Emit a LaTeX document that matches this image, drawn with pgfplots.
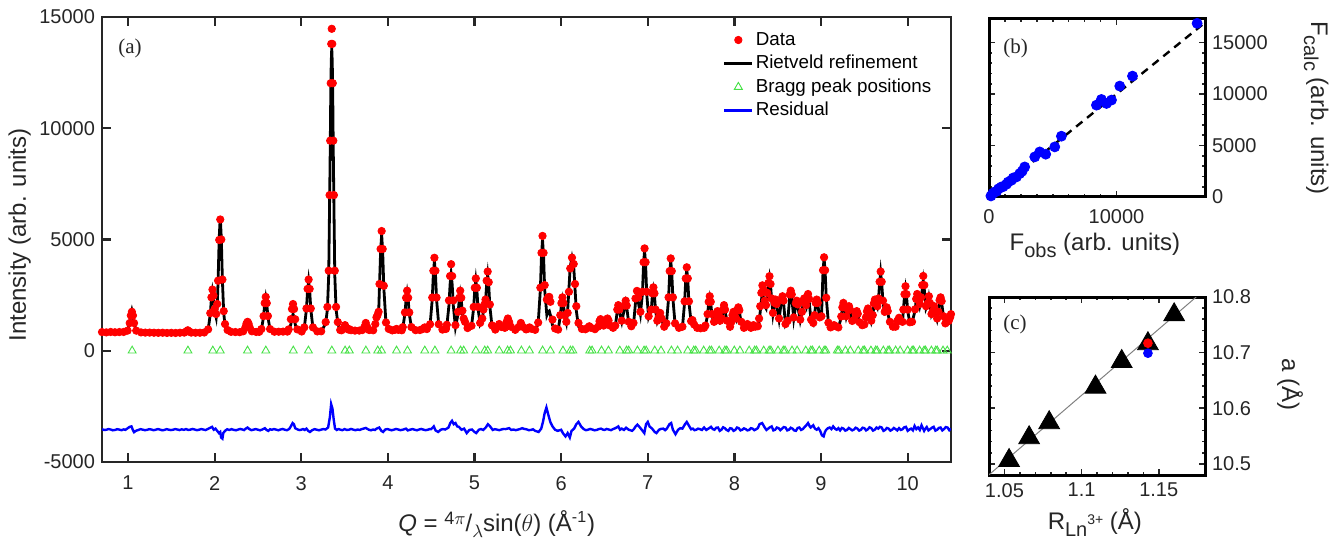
\documentclass[border=0pt]{standalone}
\usepackage{fontspec}
\setmainfont{Liberation Sans}
\newfontfamily\seriffont{Liberation Serif}
\usepackage{pgfplots}
\pgfplotsset{compat=1.18}
\usepackage{pgfplotstable}
\definecolor{bragg}{RGB}{70,225,70}
\definecolor{axgray}{RGB}{38,38,38}
\newcommand{\bigsub}[1]{\raisebox{-3.5pt}{\fontsize{10}{12}\selectfont #1}}

\pgfplotstableread{
q fit obs
0.70 800 840
0.75 795 825
0.80 800 845
0.85 800 830
0.90 805 840
0.95 810 845
0.995 882 904
1.020 1261 1244
1.033 1640 1584
1.045 1825 1750
1.057 1640 1584
1.070 1261 1244
1.095 882 904
1.15 790 825
1.20 785 815
1.25 780 815
1.30 780 810
1.35 780 805
1.40 775 810
1.45 775 800
1.50 775 805
1.55 775 800
1.60 780 810
1.65 790 815
1.67 840 860
1.69 900 920
1.71 840 860
1.73 790 815
1.78 780 810
1.83 785 810
1.88 790 820
1.925 942 960
1.950 1645 1690
1.963 2348 2400
1.975 2690 2750
1.987 2420 2480
2.000 1800 1880
2.018 1490 1650
2.030 2000 2100
2.040 3143 3150
2.053 5079 4980
2.065 6020 5900
2.077 5079 5000
2.090 3143 3200
2.105 1700 1780
2.120 1150 1200
2.150 900 930
2.190 820 850
2.24 810 840
2.29 810 835
2.33 847 875
2.355 1017 1050
2.368 1187 1220
2.380 1270 1300
2.392 1187 1220
2.405 1017 1050
2.43 847 875
2.48 815 845
2.515 820 850
2.54 946 975
2.565 1527 1560
2.578 2107 2140
2.590 2390 2420
2.602 2107 2140
2.615 1527 1560
2.64 946 975
2.69 825 855
2.74 825 855
2.79 825 860
2.84 830 860
2.855 895 960
2.880 1197 1418
2.893 1498 1877
2.905 1645 2100
2.917 1498 1877
2.930 1197 1418
2.955 895 960
3.005 835 865
3.035 1019 1050
3.060 1872 1900
3.073 2725 2780
3.085 3140 3200
3.097 2725 2780
3.110 1872 1900
3.135 1019 1050
3.185 840 870
3.23 845 875
3.282 1233 1288
3.302 1870 1967
3.317 3400 3598
3.327 6588 6996
3.334 8883 9442
3.340 11305 12024
3.346 12963 13791
3.352 13600 14470
3.358 12963 13791
3.364 11305 12024
3.370 8883 9442
3.377 6588 6996
3.387 3400 3598
3.402 1870 1967
3.422 1233 1288
3.45 900 930
3.465 888 920
3.490 974 1010
3.505 1100 1150
3.520 974 1010
3.545 920 950
3.555 940 970
3.575 895 925
3.62 875 905
3.67 875 905
3.705 898 930
3.728 1006 1060
3.745 1166 1250
3.762 1006 1060
3.785 898 930
3.83 890 920
3.855 1150 1200
3.868 1420 1500
3.880 1500 1600
3.893 1650 1750
3.903 2900 3000
3.916 4447 4575
3.928 5230 5380
3.940 4447 4575
3.953 2838 2920
3.978 1228 1270
4.01 950 980
4.05 885 915
4.08 910 940
4.10 950 980
4.12 910 940
4.16 890 920
4.172 1028 1062
4.197 1666 1721
4.210 2305 2380
4.222 2615 2700
4.234 2305 2380
4.247 1666 1721
4.272 1028 1062
4.32 895 925
4.37 900 930
4.40 945 975
4.425 1000 1050
4.45 945 975
4.487 1151 1190
4.512 2311 2392
4.525 3471 3595
4.537 4035 4180
4.549 3471 3595
4.562 2311 2392
4.587 1151 1190
4.63 920 950
4.67 950 980
4.68 1103 1167
4.705 2043 2262
4.718 2983 3357
4.730 3440 3890
4.742 2983 3357
4.755 2043 2262
4.780 1060 1150
4.810 1650 1750
4.823 2270 2380
4.835 2570 2700
4.847 2270 2380
4.860 1700 1800
4.875 1350 1450
4.890 1200 1300
4.920 980 1020
4.965 1082 1120
4.990 1922 1970
5.003 2761 2830
5.015 3170 3250
5.027 2761 2830
5.040 1922 1970
5.065 1200 1250
5.090 1400 1450
5.103 1800 1850
5.115 2000 2080
5.127 2200 2300
5.140 3000 3150
5.152 3410 3560
5.164 2950 3080
5.177 2000 2080
5.202 1100 1140
5.24 920 950
5.26 1040 1070
5.285 1170 1200
5.31 1040 1070
5.35 1000 1030
5.37 1250 1290
5.385 1390 1450
5.40 1250 1290
5.42 1050 1080
5.47 910 940
5.51 1040 1070
5.535 1195 1250
5.56 1040 1070
5.595 930 960
5.615 960 990
5.635 1018 1050
5.655 960 990
5.70 910 940
5.735 1228 1268
5.760 2745 2834
5.773 4262 4399
5.785 5000 5160
5.797 4262 4399
5.810 2745 2950
5.835 1600 2300
5.850 1750 2400
5.863 1790 2420
5.876 1600 2200
5.900 1150 1400
5.930 950 1000
5.965 920 950
5.990 1550 1600
6.003 2068 2140
6.015 2320 2400
6.027 2068 2140
6.040 1550 1600
6.060 1250 1300
6.075 1800 1700
6.090 2800 2650
6.105 3800 3700
6.125 4185 4185
6.145 3800 3900
6.160 2800 3000
6.175 1800 2000
6.200 1100 1250
6.240 930 980
6.28 935 965
6.305 1000 1030
6.325 1076 1100
6.345 1000 1030
6.39 940 970
6.425 1050 1080
6.443 1300 1330
6.455 1390 1420
6.467 1300 1330
6.490 1100 1130
6.510 1200 1230
6.523 1330 1360
6.535 1420 1450
6.547 1330 1360
6.565 1100 1130
6.600 1000 1030
6.625 1100 1130
6.648 1785 1850
6.660 1970 2050
6.672 1785 1850
6.700 1300 1350
6.733 1950 2030
6.745 2166 2250
6.757 1950 2030
6.780 1250 1300
6.810 1050 1100
6.835 1150 1250
6.858 2150 2350
6.875 2470 2690
6.890 2200 2400
6.915 1650 1750
6.938 2550 2650
6.951 3870 3980
6.963 4515 4600
6.975 3870 3980
6.988 2550 2650
7.010 1500 1550
7.040 1800 1850
7.053 2500 2580
7.065 2765 2850
7.077 2500 2580
7.090 1800 1850
7.110 1300 1350
7.125 1450 1500
7.143 1645 1700
7.160 1400 1450
7.190 1050 1080
7.215 1200 1230
7.240 2352 2400
7.253 3504 3580
7.265 4065 4150
7.277 3504 3580
7.290 2352 2400
7.315 1200 1230
7.36 1000 1030
7.40 1050 1080
7.425 2170 2220
7.438 3172 3250
7.450 3660 3750
7.462 3172 3250
7.475 2170 2220
7.500 1300 1330
7.515 1345 1380
7.535 1150 1180
7.57 1000 1030
7.61 980 1010
7.65 1000 1030
7.665 1100 1130
7.690 1600 1650
7.703 2150 2200
7.715 2390 2450
7.727 2150 2200
7.740 1600 1650
7.765 1250 1300
7.780 1300 1350
7.793 1600 1650
7.805 1720 1780
7.817 1600 1650
7.835 1300 1350
7.855 1400 1450
7.868 1800 1850
7.880 1975 2050
7.892 1800 1850
7.915 1300 1350
7.950 1050 1080
7.965 1250 1300
7.978 1550 1600
7.990 1675 1750
8.002 1550 1600
8.020 1400 1450
8.033 1750 1820
8.045 1870 1950
8.057 1750 1820
8.080 1250 1300
8.110 1000 1030
8.130 1080 1110
8.150 1170 1200
8.170 1080 1110
8.190 1000 1030
8.205 1080 1110
8.220 1120 1150
8.240 1050 1080
8.270 1050 1100
8.285 1300 1450
8.298 1750 2000
8.311 2250 2600
8.323 2540 2940
8.335 2400 2750
8.350 2000 2250
8.365 1900 2050
8.380 2550 2600
8.393 3000 3050
8.405 3290 3350
8.417 2950 3000
8.430 2300 2350
8.445 1650 1700
8.463 2100 2150
8.475 2240 2300
8.487 2050 2100
8.515 1400 1450
8.543 2250 2300
8.555 2390 2450
8.567 2200 2250
8.590 1150 1200
8.615 1300 1350
8.638 2400 2530
8.650 2570 2700
8.662 2400 2530
8.685 1450 1500
8.708 2050 2130
8.720 2165 2250
8.732 2000 2080
8.760 1350 1400
8.780 1700 1750
8.793 2150 2230
8.805 2270 2350
8.817 2050 2130
8.828 1950 2050
8.840 2350 2430
8.850 2465 2550
8.862 2250 2330
8.885 1350 1400
8.910 1200 1250
8.925 1550 1600
8.938 2100 2150
8.950 2240 2300
8.962 2100 2150
8.985 1450 1500
9.005 1500 1550
9.023 3590 3620
9.035 4155 4200
9.047 3590 3620
9.060 2400 2380
9.085 1250 1260
9.110 1020 1050
9.135 1080 1110
9.150 1120 1150
9.165 1080 1110
9.200 1020 1050
9.233 1500 1540
9.246 1900 1950
9.258 2090 2150
9.270 1900 1950
9.290 1500 1550
9.311 1800 1860
9.323 1940 2000
9.335 1780 1840
9.360 1300 1340
9.387 1350 1400
9.400 1600 1660
9.412 1720 1780
9.424 1600 1660
9.445 1250 1280
9.475 1120 1150
9.500 1150 1180
9.518 1450 1500
9.530 1700 1770
9.542 1825 1900
9.554 1700 1770
9.580 1300 1350
9.597 1550 1600
9.610 2050 2130
9.622 2210 2300
9.634 2100 2180
9.650 1950 2000
9.663 2300 2350
9.676 3050 3100
9.688 3510 3560
9.700 3050 3100
9.715 2200 2250
9.735 1700 1750
9.746 1750 1830
9.758 1870 1950
9.770 1700 1780
9.795 1250 1300
9.830 1050 1080
9.860 1050 1080
9.880 1300 1340
9.900 1420 1480
9.920 1300 1340
9.940 1250 1300
9.950 1800 1850
9.963 2450 2540
9.975 2795 2900
9.987 2450 2540
10.000 1800 1850
10.025 1250 1280
10.050 1250 1300
10.085 1800 1860
10.098 2250 2330
10.110 2465 2550
10.122 2350 2420
10.140 2000 2100
10.155 2250 2400
10.168 2750 2950
10.180 3140 3360
10.192 2750 2950
10.212 1900 2000
10.233 2100 2150
10.245 2390 2450
10.257 2100 2150
10.275 1600 1650
10.293 1750 1800
10.305 1940 2000
10.317 1750 1800
10.340 1400 1450
10.355 1700 1750
10.368 2200 2270
10.380 2320 2400
10.392 2150 2230
10.415 1500 1550
10.435 1200 1230
10.455 1270 1300
10.475 1250 1350
10.490 1350 1500
10.500 1500 1645
}\pattern

\pgfplotstableread{
q r
0.70 -3530
0.725 -3560
0.75 -3550
0.775 -3520
0.80 -3540
0.825 -3575
0.85 -3560
0.875 -3525
0.90 -3545
0.925 -3570
0.95 -3535
0.97 -3555
0.99 -3500
1.02 -3420
1.04 -3400
1.055 -3550
1.07 -3660
1.09 -3600
1.12 -3560
1.145 -3525
1.17 -3545
1.195 -3570
1.22 -3555
1.245 -3525
1.27 -3540
1.295 -3570
1.32 -3550
1.345 -3520
1.37 -3545
1.395 -3575
1.42 -3560
1.445 -3525
1.47 -3545
1.495 -3565
1.52 -3550
1.545 -3520
1.57 -3540
1.595 -3565
1.62 -3530
1.645 -3555
1.67 -3520
1.695 -3560
1.72 -3545
1.745 -3515
1.77 -3540
1.795 -3570
1.82 -3550
1.845 -3520
1.87 -3540
1.895 -3565
1.92 -3520
1.95 -3460
1.97 -3420
1.99 -3550
2.01 -3500
2.03 -3600
2.05 -3700
2.065 -3650
2.075 -3900
2.09 -3950
2.10 -3700
2.12 -3600
2.145 -3530
2.17 -3560
2.195 -3525
2.22 -3555
2.245 -3575
2.27 -3545
2.295 -3515
2.32 -3540
2.34 -3565
2.36 -3500
2.38 -3450
2.40 -3520
2.425 -3570
2.45 -3545
2.475 -3520
2.50 -3550
2.525 -3575
2.55 -3540
2.58 -3480
2.60 -3560
2.62 -3600
2.64 -3530
2.66 -3550
2.685 -3520
2.71 -3545
2.735 -3575
2.76 -3540
2.785 -3515
2.81 -3550
2.835 -3570
2.86 -3520
2.88 -3400
2.90 -3250
2.915 -3300
2.93 -3480
2.96 -3540
2.98 -3565
3.00 -3550
3.02 -3520
3.04 -3560
3.06 -3500
3.08 -3600
3.10 -3650
3.13 -3560
3.155 -3525
3.18 -3550
3.205 -3575
3.23 -3545
3.255 -3520
3.28 -3540
3.31 -3450
3.33 -3000
3.345 -2400
3.36 -2600
3.375 -3100
3.39 -3500
3.41 -3560
3.43 -3520
3.45 -3545
3.475 -3570
3.50 -3520
3.525 -3560
3.55 -3550
3.575 -3515
3.60 -3545
3.625 -3570
3.65 -3540
3.675 -3560
3.70 -3520
3.745 -3470
3.78 -3550
3.805 -3575
3.83 -3540
3.85 -3560
3.87 -3500
3.90 -3450
3.925 -3600
3.945 -3650
3.97 -3540
3.995 -3520
4.02 -3550
4.045 -3575
4.07 -3545
4.095 -3515
4.12 -3540
4.145 -3570
4.17 -3550
4.21 -3500
4.23 -3580
4.26 -3545
4.285 -3520
4.31 -3550
4.335 -3575
4.36 -3540
4.385 -3515
4.41 -3545
4.435 -3570
4.46 -3550
4.48 -3525
4.50 -3520
4.53 -3400
4.55 -3580
4.58 -3650
4.61 -3550
4.635 -3520
4.66 -3540
4.68 -3500
4.70 -3450
4.72 -3250
4.74 -3150
4.76 -3300
4.78 -3250
4.80 -3400
4.82 -3420
4.85 -3550
4.88 -3500
4.91 -3700
4.94 -3560
4.97 -3540
5.00 -3650
5.02 -3700
5.05 -3550
5.075 -3520
5.10 -3560
5.13 -3450
5.155 -3300
5.18 -3400
5.21 -3560
5.235 -3525
5.26 -3545
5.285 -3570
5.31 -3540
5.335 -3515
5.36 -3520
5.40 -3480
5.425 -3560
5.45 -3540
5.475 -3570
5.50 -3545
5.525 -3520
5.55 -3480
5.575 -3515
5.60 -3530
5.625 -3570
5.65 -3560
5.675 -3530
5.70 -3600
5.74 -3650
5.77 -3500
5.79 -3200
5.81 -2800
5.83 -2550
5.85 -2850
5.875 -3200
5.90 -3400
5.93 -3550
5.96 -3600
6.00 -3550
6.02 -3700
6.05 -3850
6.075 -3700
6.10 -3900
6.12 -3600
6.15 -3500
6.175 -3300
6.20 -3200
6.23 -3400
6.26 -3520
6.285 -3570
6.31 -3550
6.335 -3515
6.36 -3540
6.385 -3575
6.41 -3560
6.435 -3520
6.46 -3500
6.48 -3540
6.50 -3560
6.525 -3515
6.55 -3540
6.575 -3570
6.60 -3520
6.62 -3490
6.64 -3450
6.66 -3400
6.68 -3550
6.70 -3500
6.725 -3560
6.75 -3460
6.78 -3550
6.82 -3600
6.84 -3520
6.86 -3400
6.88 -3320
6.91 -3450
6.94 -3600
6.96 -3700
6.98 -3300
7.00 -3200
7.02 -3400
7.05 -3500
7.08 -3650
7.10 -3700
7.13 -3550
7.155 -3510
7.18 -3500
7.20 -3570
7.22 -3500
7.25 -3300
7.27 -3250
7.29 -3550
7.32 -3750
7.35 -3550
7.375 -3480
7.40 -3500
7.43 -3300
7.45 -3200
7.48 -3400
7.50 -3530
7.52 -3500
7.54 -3570
7.56 -3550
7.58 -3500
7.60 -3520
7.625 -3560
7.65 -3450
7.675 -3560
7.70 -3500
7.73 -3420
7.75 -3520
7.77 -3550
7.79 -3460
7.81 -3450
7.83 -3600
7.85 -3550
7.87 -3440
7.89 -3480
7.91 -3560
7.93 -3600
7.95 -3480
7.97 -3500
7.99 -3600
8.01 -3560
8.03 -3450
8.05 -3480
8.07 -3580
8.09 -3550
8.11 -3490
8.13 -3520
8.15 -3580
8.17 -3560
8.19 -3480
8.21 -3500
8.23 -3570
8.25 -3530
8.27 -3480
8.29 -3300
8.32 -3250
8.35 -3450
8.37 -3560
8.39 -3500
8.41 -3440
8.43 -3400
8.45 -3580
8.47 -3550
8.49 -3450
8.51 -3480
8.53 -3570
8.55 -3500
8.57 -3430
8.59 -3450
8.61 -3580
8.63 -3550
8.65 -3460
8.67 -3500
8.69 -3580
8.71 -3600
8.73 -3470
8.75 -3450
8.77 -3560
8.79 -3520
8.81 -3430
8.83 -3350
8.85 -3250
8.87 -3400
8.88 -3450
8.91 -3350
8.93 -3500
8.95 -3550
8.97 -3480
8.99 -3600
9.01 -3800
9.03 -3850
9.045 -3650
9.06 -3550
9.08 -3480
9.10 -3450
9.12 -3520
9.14 -3400
9.16 -3500
9.18 -3550
9.20 -3480
9.22 -3580
9.24 -3470
9.26 -3500
9.28 -3590
9.30 -3560
9.32 -3470
9.34 -3520
9.36 -3580
9.38 -3540
9.40 -3460
9.42 -3500
9.44 -3590
9.46 -3550
9.48 -3460
9.50 -3480
9.52 -3580
9.54 -3530
9.56 -3440
9.58 -3480
9.60 -3590
9.62 -3550
9.64 -3450
9.66 -3500
9.68 -3420
9.70 -3450
9.72 -3600
9.74 -3560
9.76 -3470
9.78 -3500
9.80 -3590
9.82 -3550
9.84 -3470
9.86 -3520
9.88 -3580
9.90 -3480
9.92 -3560
9.94 -3530
9.96 -3440
9.98 -3420
10.00 -3600
10.02 -3540
10.04 -3500
10.06 -3580
10.08 -3380
10.10 -3520
10.12 -3450
10.14 -3560
10.16 -3350
10.175 -3480
10.19 -3600
10.205 -3500
10.22 -3430
10.24 -3580
10.26 -3520
10.28 -3460
10.30 -3420
10.32 -3590
10.34 -3550
10.36 -3470
10.38 -3450
10.40 -3580
10.42 -3520
10.44 -3430
10.46 -3450
10.48 -3570
10.50 -3500
}\resid

\pgfplotstableread{
q y
1.048 0
1.692 0
1.979 0
2.065 0
2.380 0
2.591 0
2.908 0
3.083 0
3.353 0
3.506 0
3.555 0
3.746 0
3.883 0
3.927 0
4.100 0
4.226 0
4.426 0
4.543 0
4.730 0
4.839 0
4.875 0
5.015 0
5.118 0
5.152 0
5.285 0
5.382 0
5.415 0
5.541 0
5.634 0
5.786 0
5.876 0
6.021 0
6.107 0
6.135 0
6.330 0
6.357 0
6.466 0
6.546 0
6.677 0
6.755 0
6.780 0
6.881 0
6.957 0
6.981 0
7.080 0
7.153 0
7.273 0
7.344 0
7.461 0
7.531 0
7.554 0
7.645 0
7.713 0
7.735 0
7.824 0
7.890 0
7.912 0
7.999 0
8.064 0
8.170 0
8.234 0
8.255 0
8.338 0
8.401 0
8.421 0
8.503 0
8.564 0
8.584 0
8.665 0
8.724 0
8.823 0
8.882 0
8.901 0
8.979 0
9.036 0
9.055 0
9.188 0
9.207 0
9.282 0
9.338 0
9.430 0
9.485 0
9.503 0
9.576 0
9.630 0
9.648 0
9.719 0
9.773 0
9.790 0
9.861 0
9.913 0
10.000 0
10.052 0
10.069 0
10.138 0
10.189 0
10.206 0
10.274 0
10.324 0
10.341 0
10.408 0
10.457 0
}\braggtab

\begin{document}
\begin{tikzpicture}
\useasboundingbox (0,0) rectangle (668.5pt,-275pt);
\pgfplotsset{
  /pgf/number format/assume math mode=true,
  /pgf/number format/1000 sep={},
  scaled ticks=false,
  tick label style={font=\fontsize{10}{12}\selectfont, text=axgray},
  label style={font=\fontsize{12}{14}\selectfont, text=axgray},
}
% ---------------- panel (a)
\begin{axis}[
  at={(51pt,-8.5pt)}, anchor=north west,
  scale only axis, width=424.5pt, height=222.5pt,
  xmin=0.7, xmax=10.5, ymin=-5000, ymax=15000,
  xtick={1,2,3,4,5,6,7,8,9,10},
  ytick={-5000,0,5000,10000,15000},
  xticklabel style={yshift=-3.5pt},
  axis line style={line width=1.1pt, draw=axgray},
  tick style={line width=1.1pt, draw=axgray},
  major tick length=4.5pt,
  xlabel={\textit{Q} = \raisebox{3.2pt}{\fontsize{9}{10}\selectfont 4$\pi$}/\raisebox{-3pt}{\fontsize{9}{10}\selectfont$\lambda$}sin($\theta$) (Å\textsuperscript{-1})},
  ylabel={Intensity (arb. units)},
  xlabel style={at={(axis description cs:0.465,-0.139)}, anchor=center},
  ylabel style={at={(axis description cs:-0.097,0.51)}, anchor=center},
  legend style={at={(0.7314,0.973)}, anchor=north west, draw=none, fill=none,
    inner sep=0pt, outer sep=0pt,
    font=\fontsize{9.4}{11}\selectfont,
    nodes={inner sep=1pt, text height=7pt, text depth=2pt},
    row sep=0.75pt},
  legend cell align=left,
  legend image code/.code={\draw[mark repeat=2,mark phase=2,#1] plot coordinates {(0pt,0pt) (7pt,0pt) (14pt,0pt)};},
]
\addplot[only marks, mark=*, mark size=1.85pt, color=red, mark options={draw=red, fill=red}] table[x=q, y=obs] {\pattern};
\addlegendentry{Data}
\addplot[black, line width=1.4pt] table[x=q, y=fit] {\pattern};
\addlegendentry{Rietveld refinement}
\addplot[only marks, mark=triangle, mark size=2.3pt, color=bragg, mark options={line width=0.45pt}] table[x=q, y=y] {\braggtab};
\addlegendentry{Bragg peak positions}
\addplot[blue, line width=1.2pt] table[x=q, y=r] {\resid};
\addlegendentry{Residual}
\node[font=\seriffont\fontsize{10.5}{12}\selectfont, text=axgray] at (rel axis cs:0.033,0.93) {(a)};
\end{axis}
% ---------------- panel (b)
\begin{axis}[
  at={(494.5pt,-9.5pt)}, anchor=north west,
  scale only axis, width=108pt, height=89pt,
  xmin=0, xmax=16950, ymin=0, ymax=17300,
  xtick={0,10000}, ytick={0,5000,10000,15000},
  minor x tick num=7, minor y tick num=4,
  yticklabel pos=right,
  xticklabel style={yshift=-2.5pt},
  axis line style={line width=1.5pt, draw=black},
  tick style={line width=0.8pt, draw=axgray},
  major tick length=3pt, minor tick length=1.6pt,
  xlabel={F\bigsub{obs} (arb. units)},
  ylabel={F\bigsub{calc} (arb. units)},
  xlabel style={at={(axis description cs:0.49,-0.27)}, anchor=center},
  ylabel style={at={(axis description cs:1.515,0.5)}, anchor=center, rotate=180},
]
\addplot[black, line width=1.2pt, dash pattern=on 4pt off 3pt] coordinates {(0,0) (16950,16950)};
\addplot[only marks, mark=*, mark size=2.5pt, color=blue, mark options={draw=blue, fill=blue}] coordinates {
(150,100) (300,350) (450,490) (600,550) (750,800) (970,975) (1100,1000) (1365,1236) (1500,1450) (1758,1626) (1900,1850) (2150,1950) (2410,2275) (2600,2500) (2800,2920) (3590,3900) (3980,4380) (4450,4160) (5160,4870) (5680,5910) (8430,8930) (8820,9480) (9220,9090) (9610,9420) (10260,10780) (11260,11750) (16330,16880)};
\node[font=\seriffont\fontsize{10.5}{12}\selectfont, text=axgray] at (rel axis cs:0.123,0.833) {(b)};
\end{axis}
% ---------------- panel (c)
\begin{axis}[
  at={(494.5pt,-148.5pt)}, anchor=north west,
  scale only axis, width=108pt, height=89pt,
  xmin=1.04, xmax=1.18, ymin=10.48, ymax=10.8,
  xtick={1.05,1.1,1.15}, ytick={10.5,10.6,10.7,10.8},
  xticklabels={1.05,1.1,1.15}, yticklabels={10.5,10.6,10.7,10.8},
  minor x tick num=4, minor y tick num=4,
  yticklabel pos=right,
  xticklabel style={yshift=-0.5pt},
  axis line style={line width=1.5pt, draw=black},
  tick style={line width=0.8pt, draw=axgray},
  major tick length=3pt, minor tick length=1.6pt,
  xlabel={R\bigsub{Ln\raisebox{6pt}{\fontsize{7}{8}\selectfont 3+}} (Å)},
  ylabel={a (Å)},
  xlabel style={at={(axis description cs:0.49,-0.265)}, anchor=center},
  ylabel style={at={(axis description cs:1.394,0.506)}, anchor=center, rotate=180},
]
\addplot[gray, line width=0.5pt] coordinates {(1.04,10.4805) (1.1743,10.8)};
\addplot[only marks, mark=triangle*, mark size=6pt, color=black] coordinates {
(1.053,10.506) (1.066,10.547) (1.079,10.574) (1.109,10.638) (1.126,10.684) (1.143,10.716) (1.160,10.768)};
\addplot[only marks, mark=*, mark size=2.2pt, color=red, mark options={fill=red, draw=red}] coordinates {(1.143,10.717)};
\addplot[only marks, mark=*, mark size=2.2pt, color=blue, mark options={fill=blue, draw=blue}] coordinates {(1.143,10.699)};
\node[font=\seriffont\fontsize{10.5}{12}\selectfont, text=axgray] at (rel axis cs:0.12,0.848) {(c)};
\end{axis}
\end{tikzpicture}
\end{document}
